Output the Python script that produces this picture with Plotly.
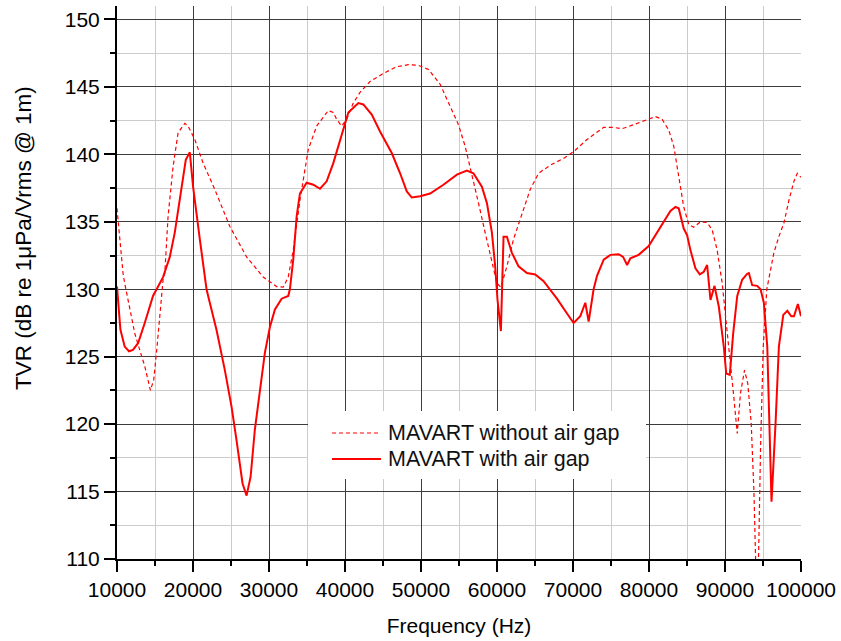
import plotly.graph_objects as go

# Transmitting voltage response of the MAVART transducer, with and without air gap
freq_no_gap = [
    10000, 10350, 10790, 11010, 11670, 12330, 12990, 13650, 14400, 14840,
    15270, 15720, 16060, 16290, 16720, 17380, 18040, 18920, 19350, 20240,
    21330, 22870, 24850, 27050, 29240, 31000, 31870, 32530, 33190, 34070,
    35160, 36270, 37800, 38460, 38900, 39560, 40220, 41090, 41980, 43290,
    45050, 46810, 48340, 49660, 50980, 52520, 53610, 54930, 55810, 56690,
    57560, 58440, 59330, 59990, 60510, 61300, 62170, 63280, 64370, 65470,
    67010, 68760, 70080, 71840, 74030, 75350, 76450, 77980, 79750, 80840,
    81720, 82600, 83260, 83910, 84570, 85230, 85890, 86770, 87650, 88310,
    88970, 89630, 90060, 90720, 91160, 91610, 92040, 92570, 93000, 93450,
    93800, 94250, 94680, 95030, 95500, 96430, 97090, 97750, 98410, 99070,
    99510, 100000,
]
tvr_no_gap = [
    136.0, 133.7, 131.2, 130.45, 128.5, 126.75, 125.5, 124.3, 122.5, 123.3,
    125.75, 128.5, 130.7, 131.2, 135.4, 139.1, 141.6, 142.3, 142.1, 141.1,
    139.35, 137.4, 134.65, 132.4, 130.9, 130.2, 130.15, 130.9, 132.9, 136.6,
    140.35, 142.1, 143.25, 143.1, 142.6, 142.1, 142.6, 143.8, 144.6, 145.4,
    146.0, 146.5, 146.65, 146.6, 146.3, 145.2, 143.8, 142.2, 140.6, 138.6,
    136.4, 134.2, 131.9, 130.45, 130.15, 131.7, 133.7, 135.65, 137.4, 138.6,
    139.2, 139.7, 140.2, 141.1, 142.0, 142.0, 141.9, 142.2, 142.6, 142.8,
    142.6, 141.8, 140.6, 138.4, 136.1, 134.8, 134.6, 135.0, 134.95, 134.4,
    132.9, 130.45, 128.2, 124.5, 122.0, 119.3, 122.3, 124.0, 123.0, 120.05,
    115.1, 105.0, 118.3, 125.75, 130.0, 132.7, 133.9, 134.9, 136.6, 138.0,
    138.6, 138.3,
]

freq_gap = [
    10000, 10450, 11010, 11580, 12100, 12770, 13650, 14740, 16060, 16950,
    17600, 18260, 19050, 19580, 20010, 20900, 21780, 22210, 23090, 24190,
    25070, 25730, 26520, 27050, 27580, 28140, 28800, 29460, 30120, 30780,
    31660, 32530, 32750, 33190, 33640, 34070, 34950, 35830, 36710, 37590,
    38460, 39340, 40440, 41760, 42410, 43520, 44610, 46150, 47250, 48130,
    48790, 49880, 51200, 52950, 54720, 56030, 56900, 58010, 58670, 59330,
    59760, 60070, 60510, 60860, 61300, 61960, 62830, 63940, 65030, 66130,
    67890, 69210, 70080, 70960, 71620, 72060, 72710, 73160, 74040, 74920,
    76010, 76590, 77120, 77550, 78640, 79960, 81500, 82820, 83480, 83910,
    84570, 85020, 85450, 86110, 86680, 87210, 87650, 88090, 88620, 89190,
    89850, 90160, 90630, 91080, 91610, 92260, 92920, 93140, 93580, 94240,
    94680, 95110, 95560, 96120, 96650, 97090, 97670, 98200, 98720, 99070,
    99590, 100000,
]
tvr_gap = [
    130.2, 127.0, 125.75, 125.4, 125.5, 126.0, 127.5, 129.5, 130.9, 132.4,
    134.2, 136.6, 139.6, 140.15, 137.6, 133.7, 130.0, 129.0, 127.0, 124.0,
    121.3, 118.8, 115.6, 114.7, 116.1, 119.6, 122.5, 125.3, 127.2, 128.5,
    129.3, 129.5, 130.0, 132.2, 135.4, 137.1, 137.9, 137.75, 137.45, 138.0,
    139.35, 141.1, 143.1, 143.8, 143.7, 142.95, 141.7, 140.1, 138.6, 137.25,
    136.8, 136.9, 137.1, 137.75, 138.5, 138.8, 138.6, 137.6, 136.4, 134.2,
    131.7, 129.2, 126.9, 133.9, 133.9, 132.7, 131.7, 131.2, 131.1, 130.6,
    129.3, 128.2, 127.5, 128.0, 129.0, 127.6, 130.0, 131.0, 132.2, 132.55,
    132.6, 132.4, 131.8, 132.3, 132.55, 133.2, 134.65, 135.8, 136.1, 136.0,
    134.5, 134.0, 132.9, 131.55, 131.1, 131.3, 131.8, 129.2, 130.25, 128.7,
    125.7, 123.75, 123.65, 126.75, 129.5, 130.7, 131.15, 131.2, 130.3, 130.25,
    130.0, 129.0, 125.75, 114.25, 120.05, 125.75, 128.1, 128.4, 128.0, 128.0,
    128.9, 128.0,
]

series_names = ["MAVART without air gap", "MAVART with air gap"]

FONT = "Liberation Sans, Arial, sans-serif"
W, H = 841, 641
M_L, M_R, M_T, M_B = 117, 40, 6, 82
PLOT_W = W - M_L - M_R
PLOT_H = H - M_T - M_B


def px_x(px):
    """Horizontal pixel position -> paper coordinate."""
    return (px - M_L) / PLOT_W


def px_y(py):
    """Vertical pixel position (from top) -> paper coordinate."""
    return (H - M_B - py) / PLOT_H


dash_line = dict(color="#ff0000", width=1.2, dash="4px,3px")
solid_line = dict(color="#ff0000", width=2)

fig = go.Figure()
fig.add_trace(go.Scatter(x=freq_no_gap, y=tvr_no_gap, mode="lines",
                         name=series_names[0], line=dash_line))
fig.add_trace(go.Scatter(x=freq_gap, y=tvr_gap, mode="lines",
                         name=series_names[1], line=solid_line))

axis_common = dict(
    showline=True, linecolor="black", linewidth=2,
    ticks="outside", tickcolor="black", tickwidth=1.5, ticklen=11,
    showgrid=True, gridcolor="#3c3c3c", gridwidth=1,
    zeroline=False,
    tickfont=dict(family=FONT, size=21, color="black"),
    title_font=dict(family=FONT, size=21, color="black"),
)

fig.update_xaxes(
    **axis_common,
    range=[10000, 100000], tick0=10000, dtick=10000, tickformat="d",
    minor=dict(dtick=5000, ticks="outside", ticklen=5, tickcolor="black",
               tickwidth=1.5, showgrid=True, gridcolor="#cccccc", gridwidth=1),
    title_text="Frequency (Hz)", title_standoff=18,
)
fig.update_yaxes(
    **axis_common,
    range=[110, 151], tick0=110, dtick=5,
    minor=dict(dtick=2.5, ticks="outside", ticklen=5, tickcolor="black",
               tickwidth=1.5, showgrid=True, gridcolor="#cccccc", gridwidth=1),
)

# Y-axis title, drawn as a rotated annotation
fig.add_annotation(
    xref="paper", yref="paper", x=px_x(23), y=px_y(238),
    xanchor="center", yanchor="middle", textangle=-90, showarrow=False,
    text="TVR (dB re 1\u03bcPa/Vrms @ 1m)",
    font=dict(family=FONT, size=22.5, color="black"),
)

# Legend box with line samples
legend_rows = [433, 459]
fig.add_shape(type="rect", xref="paper", yref="paper", layer="above",
              x0=px_x(308), x1=px_x(646), y0=px_y(479), y1=px_y(411),
              fillcolor="white", line=dict(width=0))
for name, style, row in zip(series_names, [dash_line, solid_line], legend_rows):
    fig.add_shape(type="line", xref="paper", yref="paper", layer="above",
                  x0=px_x(332), x1=px_x(381), y0=px_y(row), y1=px_y(row),
                  line=style)
    fig.add_annotation(xref="paper", yref="paper", x=px_x(386), y=px_y(row),
                       xanchor="left", yanchor="middle", showarrow=False,
                       text=name,
                       font=dict(family=FONT, size=21.5, color="#111111"))

fig.update_layout(
    width=W, height=H,
    margin=dict(l=M_L, r=M_R, t=M_T, b=M_B),
    paper_bgcolor="white", plot_bgcolor="white",
    font=dict(family=FONT, size=21, color="black"),
    showlegend=False,
)

fig.write_html("out.html")
